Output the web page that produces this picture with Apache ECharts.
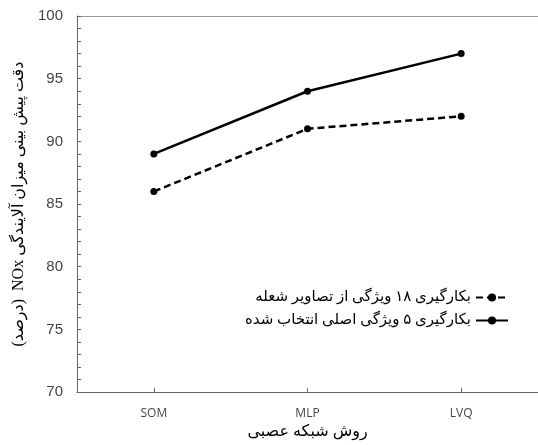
<!DOCTYPE html>
<html>
<head>
<meta charset="utf-8">
<script src="https://cdn.jsdelivr.net/npm/echarts@6/dist/echarts.min.js"></script>
<style>
html,body{margin:0;padding:0;background:#fff;}
#c{width:538px;height:445px;}
</style>
</head>
<body>
<div id="c"></div>
<script>
const categories = ['SOM', 'MLP', 'LVQ'];
const series18Name = 'بکارگیری ۱۸ ویژگی از تصاویر شعله';
const series18 = [86, 91, 92];
const series5Name = 'بکارگیری ۵ ویژگی اصلی انتخاب شده';
const series5 = [89, 94, 97];
const yMin = 70, yMax = 100, yStep = 5;
const xTitle = 'روش شبکه عصبی';
const yTitle = 'دقت پیش بینی میزان آلایندگی NOx  (درصد)';

const RLE = '\u202B', PDF = '\u202C';
const faFont = '"Liberation Serif", "DejaVu Serif", "DejaVu Sans", serif';
const chart = echarts.init(document.getElementById('c'), null, {renderer: 'canvas'});
chart.setOption({
  animation: false,
  backgroundColor: '#fff',
  grid: {left: 77, top: 16, width: 463, height: 383},
  legend: {
    orient: 'vertical',
    right: 24,
    top: 285,
    align: 'right',
    itemWidth: 32,
    itemHeight: 10,
    itemGap: 8,
    textStyle: {fontFamily: faFont, fontSize: 15, color: '#000'},
    data: [series18Name, series5Name]
  },
  xAxis: [{
    type: 'category',
    data: categories,
    boundaryGap: true,
    name: xTitle,
    nameLocation: 'middle',
    nameGap: 28,
    nameTextStyle: {fontFamily: faFont, fontSize: 16, color: '#000'},
    axisLine: {lineStyle: {color: '#666', width: 1}},
    axisTick: {show: true, alignWithLabel: true, inside: true, length: 4, lineStyle: {color: '#666'}},
    axisLabel: {margin: 15, fontSize: 12, color: '#444', fontFamily: '"Open Sans", sans-serif'},
    splitLine: {show: false}
  }, {
    type: 'category',
    data: categories,
    position: 'top',
    axisLine: {lineStyle: {color: '#999', width: 1}},
    axisTick: {show: false},
    axisLabel: {show: false}
  }],
  yAxis: {
    type: 'value',
    min: yMin,
    max: yMax,
    interval: yStep,
    name: RLE + yTitle + PDF,
    nameLocation: 'middle',
    nameRotate: 90,
    nameGap: 49,
    nameTextStyle: {fontFamily: faFont, fontSize: 16, color: '#000'},
    axisLine: {show: true, lineStyle: {color: '#666', width: 1}},
    axisTick: {show: true, inside: true, length: 4, lineStyle: {color: '#666'}},
    minorTick: {show: true, splitNumber: 5, length: 4, lineStyle: {color: '#666'}},
    axisLabel: {margin: 14, fontSize: 15, color: '#444', fontFamily: '"Liberation Sans", Arial, sans-serif'},
    splitLine: {show: false}
  },
  series: [{
    name: series18Name,
    type: 'line',
    data: series18,
    symbol: 'circle',
    symbolSize: 7,
    itemStyle: {color: '#000'},
    lineStyle: {color: '#000', width: 2.5, type: [7, 4]}
  }, {
    name: series5Name,
    type: 'line',
    data: series5,
    symbol: 'circle',
    symbolSize: 7,
    itemStyle: {color: '#000'},
    lineStyle: {color: '#000', width: 2.5, type: 'solid'}
  }]
});
</script>
</body>
</html>
